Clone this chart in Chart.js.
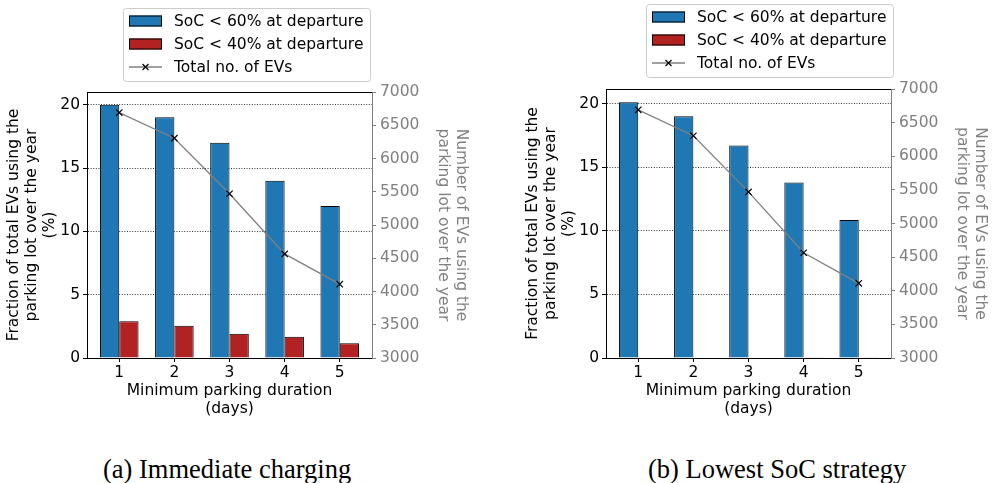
<!DOCTYPE html>
<html>
<head>
<meta charset="utf-8">
<script src="https://cdn.jsdelivr.net/npm/chart.js@4.4.1/dist/chart.umd.min.js"></script>
<style>
body { margin: 0; background: #fff; width: 995px; height: 483px; overflow: hidden; position: relative; }
.pane { position: absolute; top: 0; }
.cap { position: absolute; top: 456px; font: 26.5px 'Liberation Serif', serif; line-height: 26px; white-space: nowrap; color: #000; }
</style>
</head>
<body>
<div class="pane" style="left:0px"><canvas id="chartA" width="476" height="420"></canvas></div>
<div class="pane" style="left:519px"><canvas id="chartB" width="476" height="420"></canvas></div>
<div class="cap" style="left:103px">(a) Immediate charging</div>
<div class="cap" style="left:648px">(b) Lowest SoC strategy</div>
<script>
// minimum parking duration (days)
let days = [1, 2, 3, 4, 5];
// (a) immediate charging, % of EVs
let soc60Immediate = [20, 19, 17, 14, 12];
let soc40Immediate = [2.9, 2.55, 1.92, 1.68, 1.16];
// (b) lowest SoC strategy, % of EVs
let soc60Lowest = [20.1, 19.0, 16.7, 13.8, 10.85];
let soc40Lowest = [0.04, 0.03, 0.03, 0.02, 0.02];
// total no. of EVs (right axis)
let totalEVs = [6690, 6305, 5470, 4565, 4110];

let label60 = 'SoC < 60% at departure';
let label40 = 'SoC < 40% at departure';
let labelTotal = 'Total no. of EVs';

Chart.defaults.font.family = "'DejaVu Sans'";
Chart.defaults.font.size = 15.5;
Chart.defaults.font.lineHeight = 1.15;
Chart.defaults.color = '#000';

function pts(ys) {
    return days.map((d, i) => ({x: d, y: ys[i]}));
}

// legend box drawn above the plot, like the matplotlib one
const boxLegend = {
    id: 'boxLegend',
    afterDraw(chart, args, opts) {
        let ctx = chart.ctx;
        let x0 = opts.left, y0 = opts.top;
        ctx.save();
        ctx.fillStyle = 'rgba(255,255,255,0.8)';
        ctx.strokeStyle = '#cccccc';
        ctx.lineWidth = 1;
        ctx.beginPath();
        ctx.roundRect(x0 + 0.5, y0 + 0.5, 247, 73, 3);
        ctx.fill();
        ctx.stroke();
        ctx.font = "15.5px 'DejaVu Sans'";
        ctx.textBaseline = 'middle';
        chart.data.datasets.forEach((ds, i) => {
            let y = Math.round(y0 + 13 + i * 23);
            if (ds.type === 'line') {
                ctx.strokeStyle = ds.borderColor;
                ctx.lineWidth = ds.borderWidth;
                ctx.beginPath();
                ctx.moveTo(x0 + 6, y);
                ctx.lineTo(x0 + 39, y);
                ctx.stroke();
                let cx = x0 + 22.5, r = 3;
                ctx.strokeStyle = '#000';
                ctx.lineWidth = 1.2;
                ctx.beginPath();
                ctx.moveTo(cx - r, y - r); ctx.lineTo(cx + r, y + r);
                ctx.moveTo(cx - r, y + r); ctx.lineTo(cx + r, y - r);
                ctx.stroke();
            } else {
                ctx.fillStyle = ds.backgroundColor;
                ctx.fillRect(x0 + 6, y - 5.5, 33, 11);
                ctx.strokeStyle = '#000';
                ctx.lineWidth = 1;
                ctx.strokeRect(x0 + 6.5, y - 5, 32, 10);
            }
            ctx.fillStyle = '#000';
            ctx.fillText(ds.label, x0 + 51, y + 1);
        });
        ctx.restore();
    }
};

// top spine
const topSpine = {
    id: 'topSpine',
    afterDraw(chart) {
        let a = chart.chartArea, ctx = chart.ctx;
        ctx.save();
        ctx.strokeStyle = '#000';
        ctx.lineWidth = 1;
        ctx.beginPath();
        ctx.moveTo(a.left, Math.round(a.top) + 0.5);
        ctx.lineTo(a.right, Math.round(a.top) + 0.5);
        ctx.stroke();
        ctx.restore();
    }
};

function makeChart(id, p60, p40, cfg) {
    let ctx = document.getElementById(id).getContext('2d');
    return new Chart(ctx, {
        type: 'bar',
        data: {
            datasets: [
            {
                label: label60,
                data: pts(p60),
                backgroundColor: '#1f77b4',
                borderColor: '#000',
                borderWidth: 1,
                categoryPercentage: 0.7,
                barPercentage: 1.0,
                order: 1,
            },
            {
                label: label40,
                data: pts(p40),
                backgroundColor: '#b22222',
                borderColor: '#000',
                borderWidth: 1,
                categoryPercentage: 0.7,
                barPercentage: 1.0,
                order: 1,
            },
            {
                type: 'line',
                label: labelTotal,
                data: pts(totalEVs),
                yAxisID: 'y2',
                borderColor: '#808080',
                borderWidth: 1.3,
                pointStyle: 'crossRot',
                pointRadius: 4.5,
                pointBorderColor: '#000',
                pointBorderWidth: 1.2,
                pointBackgroundColor: '#000',
                tension: 0,
                fill: false,
                order: 0,
            }],
        },
        options: {
            responsive: false,
            animation: false,
            events: [],
            layout: {padding: {top: cfg.top, left: 0, right: 0, bottom: 0}},
            plugins: {
                legend: {display: false},
                tooltip: {enabled: false},
                boxLegend: {left: cfg.legLeft, top: cfg.legTop},
            },
            scales: {
                x: {
                    type: 'linear',
                    min: 0.415,
                    max: 5.585,
                    offset: false,
                    afterBuildTicks: s => { s.ticks = days.map(v => ({value: v})); },
                    afterFit: s => { s.height = 62; },
                    grid: {offset: false, drawOnChartArea: false, tickLength: 4, tickColor: '#000', tickWidth: 1},
                    border: {color: '#000', width: 1},
                    ticks: {color: '#000', padding: 2, maxRotation: 0},
                    title: {
                        display: true,
                        text: ['Minimum parking duration', '(days)'],
                        color: '#000',
                        padding: {top: 0, bottom: 2},
                    },
                },
                y: {
                    position: 'left',
                    min: 0,
                    max: cfg.yMax,
                    z: 1,
                    afterFit: s => { s.width = 87; },
                    ticks: {stepSize: 5, includeBounds: false, color: '#000', padding: 3},
                    grid: {color: '#000', lineWidth: 0.8, tickLength: 4, tickColor: '#000', tickWidth: 1},
                    border: {color: '#000', width: 1, dash: [1, 1.6]},
                    title: {
                        display: true,
                        text: ['Fraction of total EVs using the', 'parking lot over the year', '(%)'],
                        color: '#000',
                        padding: {top: 5, bottom: 0},
                    },
                },
                y2: {
                    position: 'right',
                    min: 3000,
                    max: 7000,
                    afterFit: s => { s.width = 104; },
                    ticks: {stepSize: 500, color: '#808080', padding: 4, callback: v => String(v)},
                    grid: {drawOnChartArea: false, tickLength: 4, tickColor: '#808080', tickWidth: 1},
                    border: {color: '#808080', width: 1},
                    title: {
                        display: true,
                        text: ['Number of EVs using the', 'parking lot over the year'],
                        color: '#808080',
                        padding: {top: 6, bottom: 0},
                    },
                },
            },
        },
        plugins: [topSpine, boxLegend],
    });
}

makeChart('chartA', soc60Immediate, soc40Immediate, {top: 92, yMax: 21, legLeft: 123, legTop: 8});
makeChart('chartB', soc60Lowest, soc40Lowest, {top: 89, yMax: 21.15, legLeft: 127, legTop: 4});
</script>
</body>
</html>
